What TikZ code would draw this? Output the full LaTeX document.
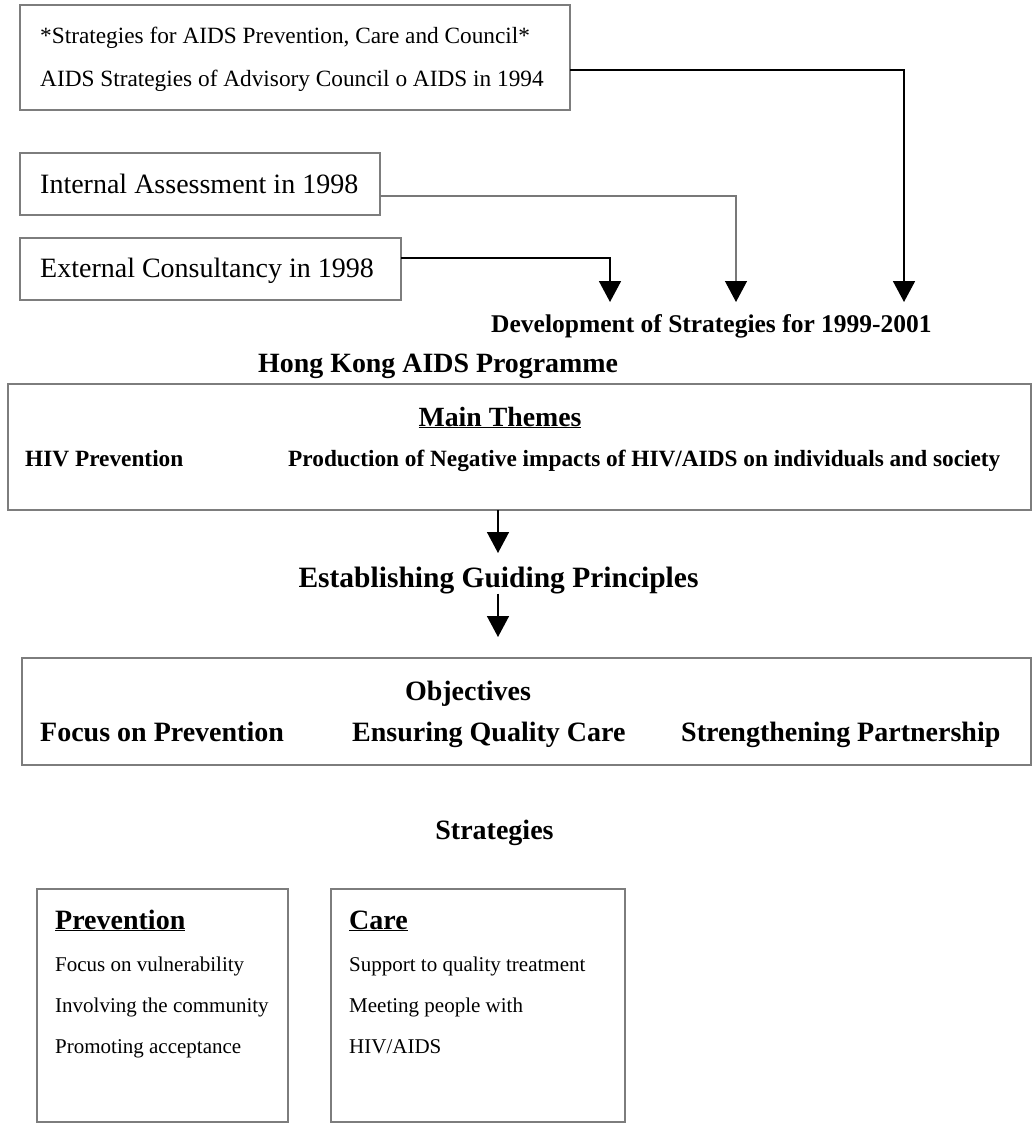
\documentclass[tikz,border=0pt]{standalone}
\usepackage{fontspec}
\setmainfont{Liberation Serif}
\usetikzlibrary{arrows.meta}
\definecolor{boxgray}{RGB}{125,125,125}
\definecolor{linegray}{RGB}{120,120,120}
\newcommand{\fs}[1]{\fontsize{#1}{#1}\selectfont}
\begin{document}
\begin{tikzpicture}[x=1pt,y=-1pt,
  box/.style={draw=boxgray, line width=1.4pt, anchor=north west, inner sep=0pt, outer sep=0pt},
  txt/.style={inner sep=0pt, anchor=base west},
  ctxt/.style={inner sep=0pt, anchor=base},
  conn/.style={line width=1.8pt, draw=black, -{Triangle[width=22pt,length=21pt]}},
  connl/.style={line width=1.3pt, draw=linegray, -{Triangle[width=22pt,length=21pt,color=black]}},
  arr/.style={line width=1.5pt, draw=black, -{Triangle[width=22pt,length=21pt]}}]
\useasboundingbox (0,0) rectangle (1035,1129);
% top boxes
\node[box, minimum width=550pt, minimum height=105pt] (b1) at (20,5) {};
\node[txt, font=\fs{23.3pt}] (b1l1) at (40,44) {*Strategies for AIDS Prevention, Care and Council*};
\node[txt, font=\fs{23.3pt}] (b1l2) at (40,87) {AIDS Strategies of Advisory Council o AIDS in 1994};
\node[box, minimum width=360pt, minimum height=62pt] (b2) at (20,153) {};
\node[txt, font=\fs{28pt}] (b2t) at (40,193) {Internal Assessment in 1998};
\node[box, minimum width=381pt, minimum height=62pt] (b3) at (20,238) {};
\node[txt, font=\fs{28pt}] (b3t) at (40,277) {External Consultancy in 1998};
% targets
\coordinate (t1) at (610,302);
\coordinate (t2) at (736,302);
\coordinate (t3) at (904,302);
\draw[conn] ([yshift=11pt]b3.east) -| (t1);
\draw[connl] ([yshift=-12pt]b2.east) -| (t2);
\draw[conn] ([yshift=-12.5pt]b1.east) -| (t3);
\node[txt, font=\bfseries\fs{25.5pt}] (dev) at (491,332) {Development of Strategies for 1999-2001};
\node[txt, font=\bfseries\fs{27.9pt}] (hk) at (258,372) {Hong Kong AIDS Programme};
% main themes
\node[box, minimum width=1023pt, minimum height=126pt] (main) at (8,384) {};
\node[ctxt, font=\bfseries\fs{27.8pt}] (mt) at (500,426) {\underline{Main Themes}};
\node[txt, font=\bfseries\fs{23.3pt}] (hiv) at (25,466) {HIV Prevention};
\node[txt, font=\bfseries\fs{23.3pt}] (prod) at (288,466) {Production of Negative impacts of HIV/AIDS on individuals and society};
\coordinate (a1) at (498,553);
\draw[arr] (main.south -| a1) -- (a1);
\node[ctxt, font=\bfseries\fs{29.5pt}] (estab) at (498.5,587) {Establishing Guiding Principles};
\coordinate (a2) at (498,637);
\draw[arr] (estab.south -| a2) -- (a2);
% objectives
\node[box, minimum width=1009pt, minimum height=107pt] (obj) at (22,658) {};
\node[ctxt, font=\bfseries\fs{28pt}] (objt) at (468,700) {Objectives};
\node[txt, font=\bfseries\fs{28pt}] (o1) at (40,741) {Focus on Prevention};
\node[txt, font=\bfseries\fs{28pt}] (o2) at (352,741) {Ensuring Quality Care};
\node[txt, font=\bfseries\fs{28pt}] (o3) at (681,741) {Strengthening Partnership};
\node[ctxt, font=\bfseries\fs{28pt}] (strat) at (494.5,839) {Strategies};
% strategy boxes
\node[box, minimum width=251pt, minimum height=233pt] (prev) at (37,889) {};
\node[txt, font=\bfseries\fs{28pt}] (prevh) at (55,929) {\underline{Prevention}};
\node[txt, font=\fs{21pt}] (p1) at (55,971) {Focus on vulnerability};
\node[txt, font=\fs{21pt}] (p2) at (55,1012) {Involving the community};
\node[txt, font=\fs{21pt}] (p3) at (55,1053) {Promoting acceptance};
\node[box, minimum width=294pt, minimum height=233pt] (care) at (331,889) {};
\node[txt, font=\bfseries\fs{28pt}] (careh) at (349,929) {\underline{Care}};
\node[txt, font=\fs{21pt}] (c1) at (349,971) {Support to quality treatment};
\node[txt, font=\fs{21pt}] (c2) at (349,1012) {Meeting people with};
\node[txt, font=\fs{21pt}] (c3) at (349,1053) {HIV/AIDS};
\end{tikzpicture}
\end{document}
